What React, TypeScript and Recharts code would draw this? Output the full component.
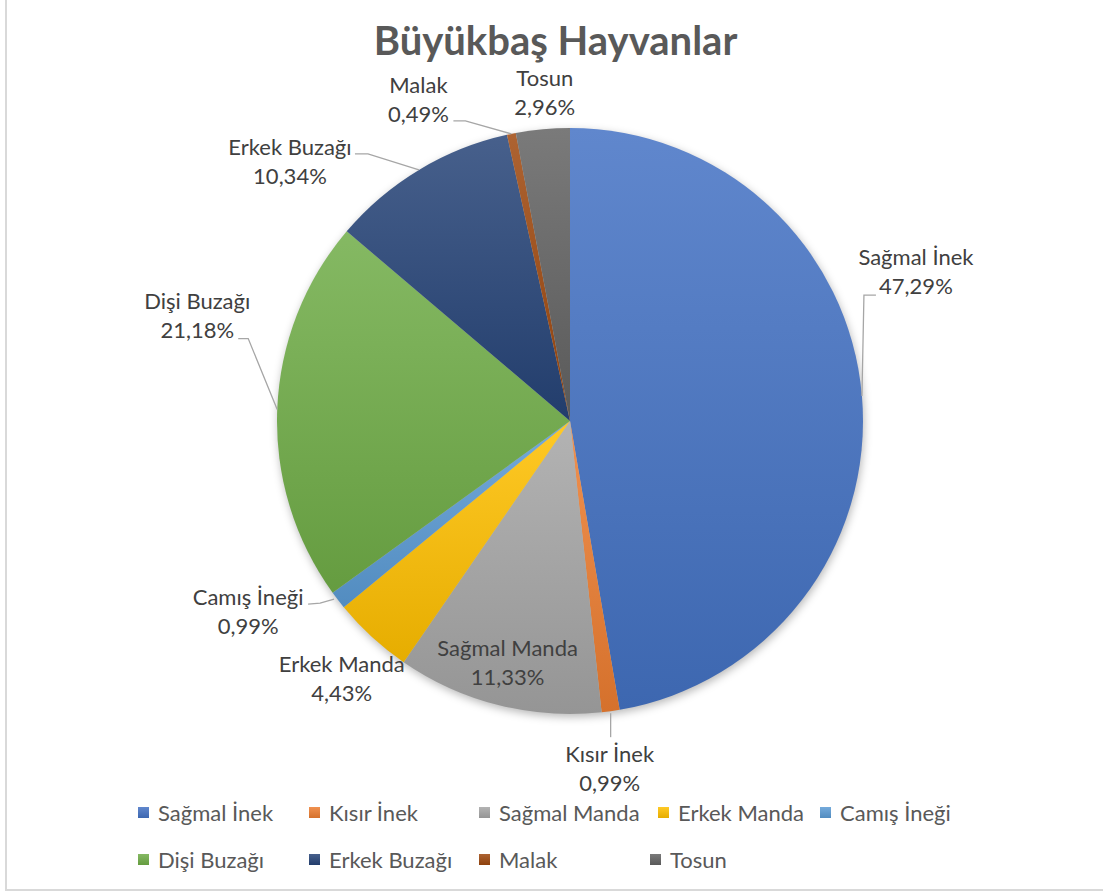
import React from "react";
import { PieChart, Pie, Cell, Legend } from "recharts";

const CATEGORIES = [
  "Sağmal İnek",
  "Kısır İnek",
  "Sağmal Manda",
  "Erkek Manda",
  "Camış İneği",
  "Dişi Buzağı",
  "Erkek Buzağı",
  "Malak",
  "Tosun",
];
const SHARES = [47.29, 0.99, 11.33, 4.43, 0.99, 21.18, 10.34, 0.49, 2.96];
const COLORS = [
  "#4472C4",
  "#ED7D31",
  "#A5A5A5",
  "#FFC000",
  "#5B9BD5",
  "#70AD47",
  "#264478",
  "#9E480E",
  "#636363",
];

const data = CATEGORIES.map((name, i) => ({ name, value: SHARES[i] }));

const FONT = "Lato, 'Noto Sans', sans-serif";
const W = 1103;
const H = 892;
const CX = 570;
const CY = 421;
const R = 293;
const LINE_H = 29;
const LABEL_COLOR = "#404040";
const TEXT_COLOR = "#595959";

// lighten (amt > 0) or darken (amt < 0) a hex colour
function shade(hex: string, amt: number) {
  const n = parseInt(hex.slice(1), 16);
  const ch = [(n >> 16) & 255, (n >> 8) & 255, n & 255].map((c) =>
    amt >= 0 ? Math.round(c + (255 - c) * amt) : Math.round(c * (1 + amt))
  );
  return "#" + ch.map((c) => c.toString(16).padStart(2, "0")).join("");
}

// label placement relative to the slice anchor (outer edge at mid angle)
type Layout = { dx: number; dy: number; inside?: number; line?: number[][] };
const LABEL_LAYOUT: Layout[] = [
  { dx: 54, dy: -131, line: [[0, 0], [2, -101], [14, -101]] },
  { dx: -1, dy: 51, line: [[0, 2], [0, 26]] },
  { dx: -2, dy: -4, inside: 0.84 },
  { dx: -30, dy: 35 },
  { dx: -90, dy: 5, line: [[-4, -1], [-18, 3], [-30, 4]] },
  { dx: -80, dy: -101, line: [[0, 0], [-29, -71], [-39, -71]] },
  { dx: -129, dy: -15, line: [[0, 0], [-51, -16], [-64, -16]] },
  { dx: -93, dy: -41, line: [[0, 0], [-46, -13], [-58, -13]] },
  { dx: 2, dy: -43 },
];

// legend item positions: [left of marker, vertical centre]
const LEGEND_POS = [
  [138, 812],
  [309, 812],
  [479, 812],
  [658, 812],
  [820, 812],
  [138, 859],
  [309, 859],
  [479, 859],
  [650, 859],
];

const fmt = (v: number) => v.toFixed(2).replace(".", ",") + "%";

const renderLabel = (props: any) => {
  const { midAngle, outerRadius, index } = props;
  const cx = typeof props.cx === "number" ? props.cx : CX;
  const cy = typeof props.cy === "number" ? props.cy : CY;
  const lay = LABEL_LAYOUT[index];
  const rad = (Math.PI / 180) * midAngle;
  const r = (outerRadius ?? R) * (lay.inside ?? 1);
  const ax = cx + r * Math.cos(rad);
  const ay = cy - r * Math.sin(rad);
  const tx = ax + lay.dx;
  const ty = ay + lay.dy;
  return (
    <g key={`lbl-${index}`}>
      {lay.line && (
        <polyline
          points={lay.line.map(([x, y]) => `${ax + x},${ay + y}`).join(" ")}
          fill="none"
          stroke="#a6a6a6"
          strokeWidth={1.3}
        />
      )}
      <text
        x={tx}
        y={ty}
        textAnchor="middle"
        fill={LABEL_COLOR}
        fontSize={22}
        fontFamily={FONT}
      >
        <tspan x={tx} y={ty}>
          {CATEGORIES[index]}
        </tspan>
        <tspan x={tx} y={ty + LINE_H}>
          {fmt(SHARES[index])}
        </tspan>
      </text>
    </g>
  );
};

const renderLegend = () => (
  <div style={{ position: "relative", width: W, height: 90 }}>
    {CATEGORIES.map((name, i) => (
      <div
        key={name}
        style={{
          position: "absolute",
          left: LEGEND_POS[i][0],
          top: LEGEND_POS[i][1] - 790 - 14,
          height: 28,
          display: "flex",
          alignItems: "center",
          whiteSpace: "nowrap",
        }}
      >
        <span
          style={{
            display: "inline-block",
            width: 11,
            height: 11,
            marginRight: 9,
            background: `linear-gradient(${shade(COLORS[i], 0.15)}, ${shade(COLORS[i], -0.1)})`,
          }}
        />
        <span style={{ fontFamily: FONT, fontSize: 22, color: TEXT_COLOR }}>{name}</span>
      </div>
    ))}
  </div>
);

export default function App() {
  return (
    <div
      style={{
        position: "absolute",
        left: 0,
        top: 0,
        width: W,
        height: H,
        background: "#fff",
        overflow: "hidden",
      }}
    >
      <div
        style={{
          position: "absolute",
          left: 5,
          top: -10,
          width: W - 5,
          height: 901,
          boxSizing: "border-box",
          borderLeft: "2px solid #d9d9d9",
          borderBottom: "2px solid #d9d9d9",
        }}
      />
      <div
        style={{
          position: "absolute",
          left: 0,
          width: W,
          top: 22,
          textAlign: "center",
          paddingLeft: 4,
          fontFamily: FONT,
          fontWeight: 700,
          fontSize: 40,
          color: TEXT_COLOR,
          lineHeight: "36px",
        }}
      >
        Büyükbaş Hayvanlar
      </div>
      <div style={{ position: "absolute", left: 0, top: 0 }}>
        <PieChart width={W} height={H} margin={{ top: 0, right: 0, bottom: 0, left: 0 }}>
          <defs>
            {COLORS.map((c, i) => (
              <linearGradient key={c} id={`grad${i}`} x1="0" y1="0" x2="0" y2="1">
                <stop offset="0%" stopColor={shade(c, 0.15)} />
                <stop offset="100%" stopColor={shade(c, -0.1)} />
              </linearGradient>
            ))}
            <filter id="pieShadow" x="-10%" y="-10%" width="120%" height="120%">
              <feGaussianBlur stdDeviation="4" />
            </filter>
          </defs>
          <Pie
            data={[{ name: "shadow", value: SHARES.reduce((a, b) => a + b, 0) }]}
            dataKey="value"
            cx={CX + 1}
            cy={CY + 3}
            outerRadius={R}
            startAngle={90}
            endAngle={-270}
            stroke="none"
            isAnimationActive={false}
            legendType="none"
          >
            <Cell fill="#000" fillOpacity={0.28} filter="url(#pieShadow)" />
          </Pie>
          <Pie
            data={data}
            dataKey="value"
            nameKey="name"
            cx={CX}
            cy={CY}
            outerRadius={R}
            startAngle={90}
            endAngle={-270}
            stroke="none"
            label={renderLabel}
            labelLine={false}
            isAnimationActive={false}
          >
            {data.map((d, i) => (
              <Cell key={d.name} fill={`url(#grad${i})`} />
            ))}
          </Pie>
          <Legend
            content={renderLegend}
            wrapperStyle={{ position: "absolute", left: 0, top: 790, width: W }}
          />
        </PieChart>
      </div>
    </div>
  );
}
